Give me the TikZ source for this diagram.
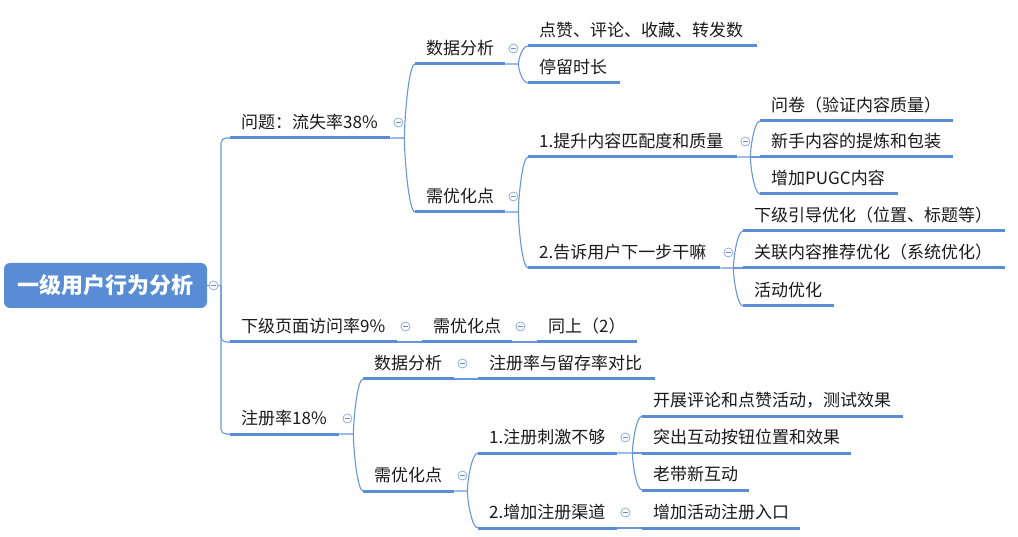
\documentclass[tikz,border=0pt]{standalone}
\usepackage{fontspec}
\newfontfamily\cjk{Noto Sans CJK SC}
\usetikzlibrary{calc}
\definecolor{ulc}{RGB}{91,141,214}
\definecolor{lnc}{RGB}{104,150,218}
\definecolor{clc}{RGB}{140,175,225}
\definecolor{clm}{RGB}{110,140,195}
\definecolor{txt}{RGB}{25,25,25}
\definecolor{rootc}{RGB}{88,140,212}
\newcommand\tbx[2]{\makebox[#1pt][l]{\hspace{11pt}#2}}
\begin{document}
\begin{tikzpicture}[x=1pt,y=-1pt,
  tp/.style={inner xsep=0pt, inner ysep=9.5pt, text depth=0pt, anchor=south west, font=\cjk\fontsize{17}{20}\selectfont, text=txt},
  ul/.style={draw=ulc, line width=3pt},
  cn/.style={draw=lnc, line width=1.1pt},
  br/.style={to path={.. controls ($(\tikztostart)!0.25!(\tikztostart|-\tikztotarget)$) and ($(\tikztotarget)!0.6!(\tikztostart|-\tikztotarget)$) .. (\tikztotarget)}},
  cl/.style={circle, draw=clc, fill=white, line width=0.8pt, minimum size=9pt, inner sep=0pt,
    path picture={\draw[clm, line width=0.8pt] ([xshift=-2.5pt]path picture bounding box.center) -- ([xshift=2.5pt]path picture bounding box.center);}},
  rootbox/.style={fill=rootc, rounded corners=6pt, minimum width=203pt, minimum height=45pt, inner sep=0pt, text=white, font=\cjk\bfseries\fontsize{22}{26}\selectfont}
]
\useasboundingbox (0,0) rectangle (1018,537);

% root
\node[rootbox] (root) at (105.5,285.5) {一级用户行为分析};

% level 1
\node[tp] (a) at (230,138) {\tbx{160}{问题：流失率38\%}};
\node[tp] (b) at (230,342) {\tbx{167}{下级页面访问率9\%}};
\node[tp] (c) at (230,434) {\tbx{109}{注册率18\%}};

% under a
\node[tp] (a1) at (415,64) {\tbx{90}{数据分析}};
\node[tp] (a2) at (415,212) {\tbx{90}{需优化点}};
\node[tp] (a1a) at (528,46) {\tbx{229}{点赞、评论、收藏、转发数}};
\node[tp] (a1b) at (528,83) {\tbx{92}{停留时长}};
\node[tp] (a2a) at (528,157) {\tbx{209}{1.提升内容匹配度和质量}};
\node[tp] (a2b) at (528,268) {\tbx{192}{2.告诉用户下一步干嘛}};
\node[tp] (a2a1) at (760,121) {\tbx{193}{问卷（验证内容质量）}};
\node[tp] (a2a2) at (760,157) {\tbx{193}{新手内容的提炼和包装}};
\node[tp] (a2a3) at (760,194) {\tbx{138}{增加PUGC内容}};
\node[tp] (a2b1) at (743,231) {\tbx{262}{下级引导优化（位置、标题等）}};
\node[tp] (a2b2) at (743,268) {\tbx{262}{关联内容推荐优化（系统优化）}};
\node[tp] (a2b3) at (743,306) {\tbx{91}{活动优化}};

% under b
\node[tp] (b1) at (422,342) {\tbx{90}{需优化点}};
\node[tp] (b1a) at (537,342) {\tbx{100}{同上（2）}};

% under c
\node[tp] (c1) at (363,379) {\tbx{91}{数据分析}};
\node[tp] (c2) at (363,491) {\tbx{91}{需优化点}};
\node[tp] (c1a) at (478,379) {\tbx{177}{注册率与留存率对比}};
\node[tp] (c2a) at (478,453) {\tbx{139}{1.注册刺激不够}};
\node[tp] (c2b) at (478,528) {\tbx{139}{2.增加注册渠道}};
\node[tp] (c2a1) at (642,416) {\tbx{261}{开展评论和点赞活动，测试效果}};
\node[tp] (c2a2) at (642,453) {\tbx{209}{突出互动按钮位置和效果}};
\node[tp] (c2a3) at (642,490) {\tbx{107}{老带新互动}};
\node[tp] (c2b1) at (642,528) {\tbx{158}{增加活动注册入口}};

% connectors from root
\coordinate (r-b) at (221,285.5);
\draw[cn] (root.east) -- (r-b);
\draw[cn, rounded corners=5pt] (r-b) |- (a.south west);
\draw[cn, rounded corners=5pt] (r-b) |- (b.south west);
\draw[cn, rounded corners=5pt] (r-b) |- (c.south west);

% branch points
\coordinate (a-b) at ($(a.south east)+(14,0)$);
\coordinate (a1-b) at ($(a1.south east)+(13,0)$);
\coordinate (a2-b) at ($(a2.south east)+(13,0)$);
\coordinate (a2a-b) at ($(a2a.south east)+(13,0)$);
\coordinate (a2b-b) at ($(a2b.south east)+(13,0)$);
\coordinate (c-b) at ($(c.south east)+(14,0)$);
\coordinate (c2-b) at ($(c2.south east)+(13,0)$);
\coordinate (c2a-b) at ($(c2a.south east)+(15,0)$);

\draw[cn] (a.south east) -- (a-b) to[br] (a1.south west);
\draw[cn] (a-b) to[br] (a2.south west);
\draw[cn] (a1.south east) -- (a1-b) to[br] (a1a.south west);
\draw[cn] (a1-b) to[br] (a1b.south west);
\draw[cn] (a2.south east) -- (a2-b) to[br] (a2a.south west);
\draw[cn] (a2-b) to[br] (a2b.south west);
\draw[cn] (a2a.south east) -- (a2a-b) to[br] (a2a1.south west);
\draw[cn] (a2a-b) -- (a2a2.south west);
\draw[cn] (a2a-b) to[br] (a2a3.south west);
\draw[cn] (a2b.south east) -- (a2b-b) to[br] (a2b1.south west);
\draw[cn] (a2b-b) -- (a2b2.south west);
\draw[cn] (a2b-b) to[br] (a2b3.south west);

\draw[cn] (b.south east) -- (b1.south west);
\draw[cn] (b1.south east) -- (b1a.south west);

\draw[cn] (c.south east) -- (c-b) to[br] (c1.south west);
\draw[cn] (c-b) to[br] (c2.south west);
\draw[cn] (c1.south east) -- (c1a.south west);
\draw[cn] (c2.south east) -- (c2-b) to[br] (c2a.south west);
\draw[cn] (c2-b) to[br] (c2b.south west);
\draw[cn] (c2a.south east) -- (c2a-b) to[br] (c2a1.south west);
\draw[cn] (c2a-b) -- (c2a2.south west);
\draw[cn] (c2a-b) to[br] (c2a3.south west);
\draw[cn] (c2b.south east) -- (c2b1.south west);

% underlines
\foreach \n in {a,b,c,a1,a2,a1a,a1b,a2a,a2b,a2a1,a2a2,a2a3,a2b1,a2b2,a2b3,b1,b1a,c1,c2,c1a,c2a,c2b,c2a1,c2a2,c2a3,c2b1}
  \draw[ul] (\n.south west) -- (\n.south east);

% collapse markers
\node[cl] (root-c) at (213.5,285.5) {};
\foreach \n in {a,b,c,a1,a2,a2a,a2b,b1,c1,c2,c2a,c2b}
  \node[cl] (\n-c) at ($(\n.south east)+(8,-15.5)$) {};
\end{tikzpicture}
\end{document}
